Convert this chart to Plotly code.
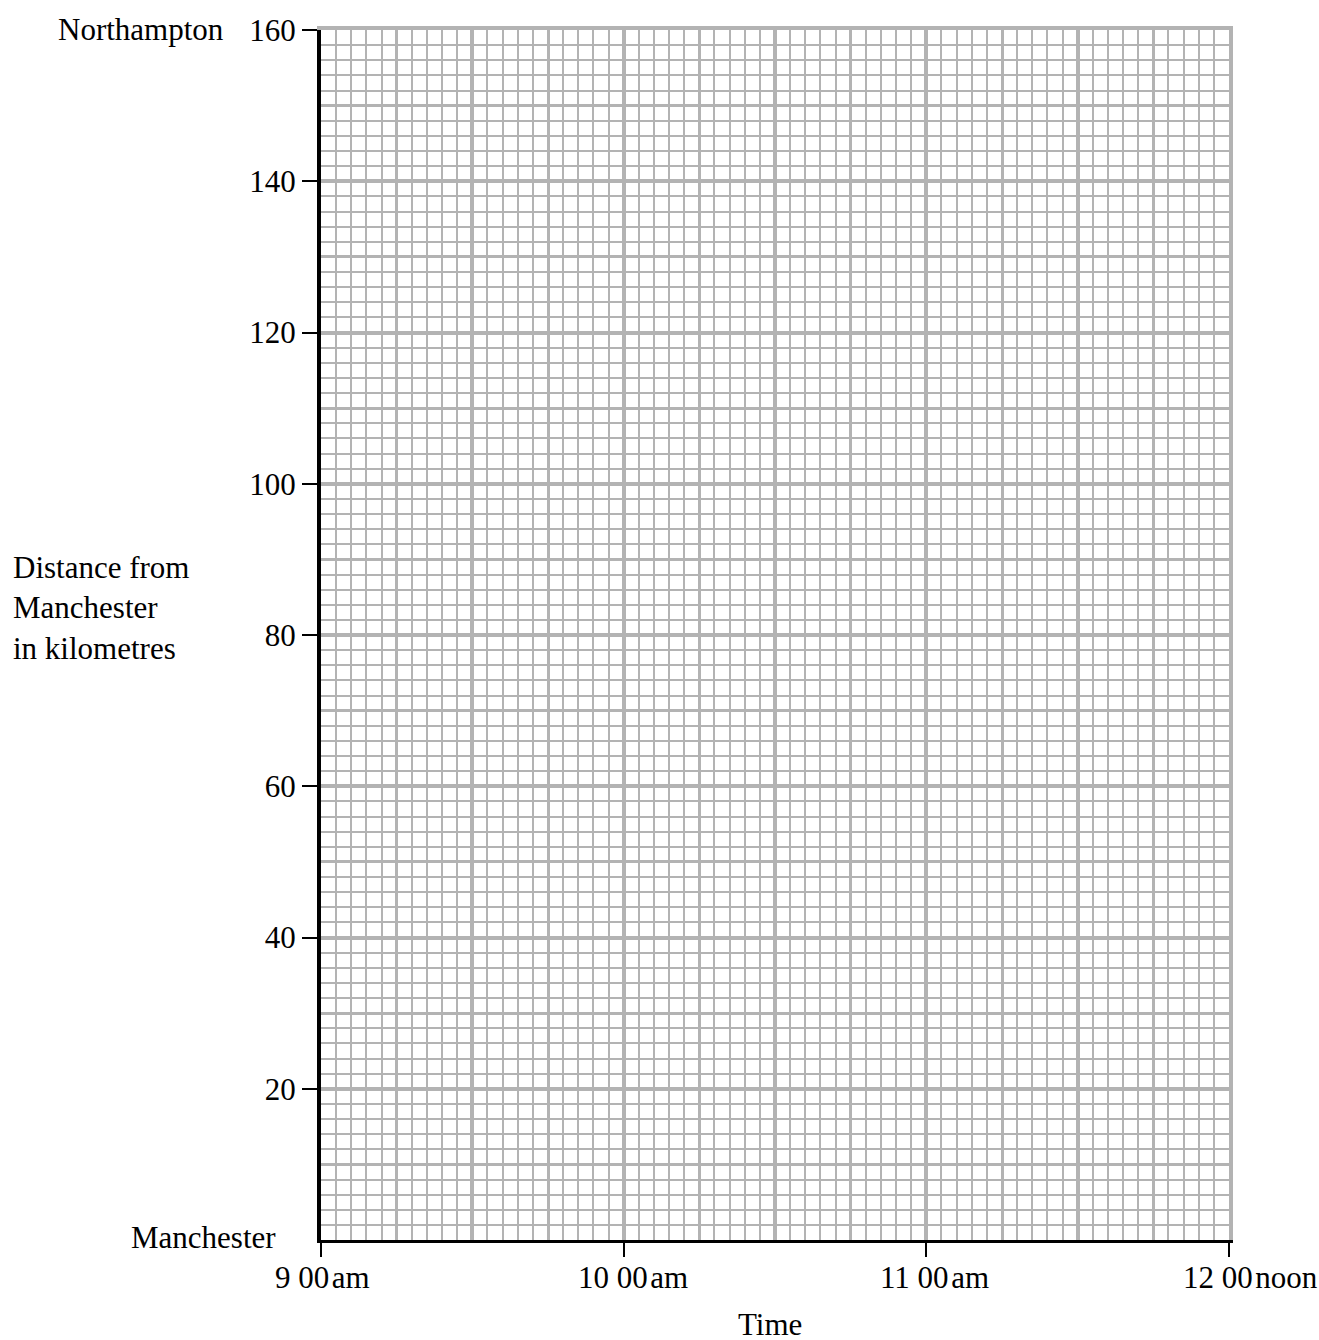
import plotly.graph_objects as go

# ---- data ----
time_ticks = [0, 60, 120, 180]            # minutes after 9:00
time_labels = ["9 00\u200aam", "10 00\u200aam", "11 00\u200aam", "12 00\u200anoon"]
dist_ticks = [20, 40, 60, 80, 100, 120, 140, 160]
dist_labels = ["20", "40", "60", "80", "100", "120", "140", "160"]
x_range = [0, 180]
y_range = [0, 160]
top_place = "Northampton"
bottom_place = "Manchester"
y_title = "Distance from<br>Manchester<br>in kilometres"
x_title = "Time"

# ---- layout geometry (pixels) ----
W, H = 1319, 1340
L, R, T, B = 321, 1229, 30, 1240
FONT = "Liberation Serif"
FS = 31
GRID = "#b3b3b3"


def px_x(p):
    return (p - L) / (R - L)


def px_y(p):
    return (B - p) / (B - T)


fig = go.Figure()
for xa, ya in (("x", "y"), ("x2", "y2"), ("x3", "y3")):
    fig.add_trace(go.Scatter(x=x_range, y=y_range, mode="markers",
                             marker=dict(opacity=0), hoverinfo="skip",
                             showlegend=False, xaxis=xa, yaxis=ya))

fig.update_layout(
    width=W, height=H,
    margin=dict(l=L, r=W - R, t=T, b=H - B, pad=0),
    paper_bgcolor="white", plot_bgcolor="white",
    font=dict(family=FONT, size=FS, color="black"),
    showlegend=False,
    xaxis=dict(
        range=x_range, tickmode="array", tickvals=time_ticks,
        showticklabels=False, ticks="outside", ticklen=14, tickwidth=2,
        tickcolor="black", showgrid=True, gridcolor=GRID, gridwidth=3.7,
        minor=dict(tickmode="linear", tick0=0, dtick=3, showgrid=True,
                   gridcolor=GRID, gridwidth=1.6, ticks=""),
        showline=True, linecolor="black", linewidth=3, zeroline=False,
        fixedrange=True,
    ),
    yaxis=dict(
        range=y_range, tickmode="array", tickvals=dist_ticks,
        ticktext=dist_labels, ticks="outside", ticklen=15, tickwidth=2,
        tickcolor="black", ticklabelstandoff=0,
        tickfont=dict(family=FONT, size=FS, color="black"),
        showgrid=True, gridcolor=GRID, gridwidth=3.7,
        minor=dict(tickmode="linear", tick0=0, dtick=2, showgrid=True,
                   gridcolor=GRID, gridwidth=1.6, ticks=""),
        showline=True, linecolor="black", linewidth=4, zeroline=False,
        fixedrange=True,
    ),
    xaxis2=dict(
        range=x_range, overlaying="x", anchor="y2", tickmode="linear",
        tick0=0, dtick=30, showticklabels=False, ticks="",
        showgrid=True, gridcolor=GRID, gridwidth=3.7,
        minor=dict(tickmode="linear", tick0=0, dtick=15, showgrid=True,
                   gridcolor=GRID, gridwidth=2.6, ticks=""),
        showline=False, zeroline=False, fixedrange=True,
    ),
    yaxis2=dict(
        range=y_range, overlaying="y", anchor="x2", tickmode="linear",
        tick0=0, dtick=20, showticklabels=False, ticks="",
        showgrid=True, gridcolor=GRID, gridwidth=3.7,
        minor=dict(tickmode="linear", tick0=0, dtick=10, showgrid=True,
                   gridcolor=GRID, gridwidth=2.6, ticks=""),
        showline=False, zeroline=False, fixedrange=True,
    ),
    # gray frame on the top and right edges of the grid paper
    xaxis3=dict(
        range=x_range, overlaying="x", anchor="y3", side="top",
        showticklabels=False, ticks="", showgrid=False, zeroline=False,
        showline=True, linecolor=GRID, linewidth=3.5, fixedrange=True,
    ),
    yaxis3=dict(
        range=y_range, overlaying="y", anchor="x3", side="right",
        showticklabels=False, ticks="", showgrid=False, zeroline=False,
        showline=True, linecolor=GRID, linewidth=3.5, fixedrange=True,
    ),
)

annotations = []
# time labels under hour ticks
for v, lab in zip(time_ticks, time_labels):
    annotations.append(dict(
        x=v, xref="x", y=px_y(1277), yref="paper", text=lab,
        showarrow=False, xanchor="left", yanchor="middle", xshift=-48,
        font=dict(family=FONT, size=FS, color="black")))

annotations.append(dict(
    x=px_x(226), xref="paper", y=px_y(29), yref="paper", text=top_place,
    showarrow=False, xanchor="right", yanchor="middle",
    font=dict(family=FONT, size=FS, color="black")))
annotations.append(dict(
    x=px_x(278), xref="paper", y=px_y(1237), yref="paper", text=bottom_place,
    showarrow=False, xanchor="right", yanchor="middle",
    font=dict(family=FONT, size=FS, color="black")))
annotations.append(dict(
    x=px_x(11), xref="paper", y=px_y(608), yref="paper", text=y_title,
    showarrow=False, xanchor="left", yanchor="middle", align="left",
    font=dict(family=FONT, size=FS, color="black")))
annotations.append(dict(
    x=px_x(770), xref="paper", y=px_y(1324), yref="paper", text=x_title,
    showarrow=False, xanchor="center", yanchor="middle",
    height=30, valign="middle",
    font=dict(family=FONT, size=FS, color="black")))

fig.update_layout(annotations=annotations)

fig.write_html("out.html",
               config={"displayModeBar": False},
               post_script="document.body.style.margin='0';"
                           "document.body.style.padding='0';")
